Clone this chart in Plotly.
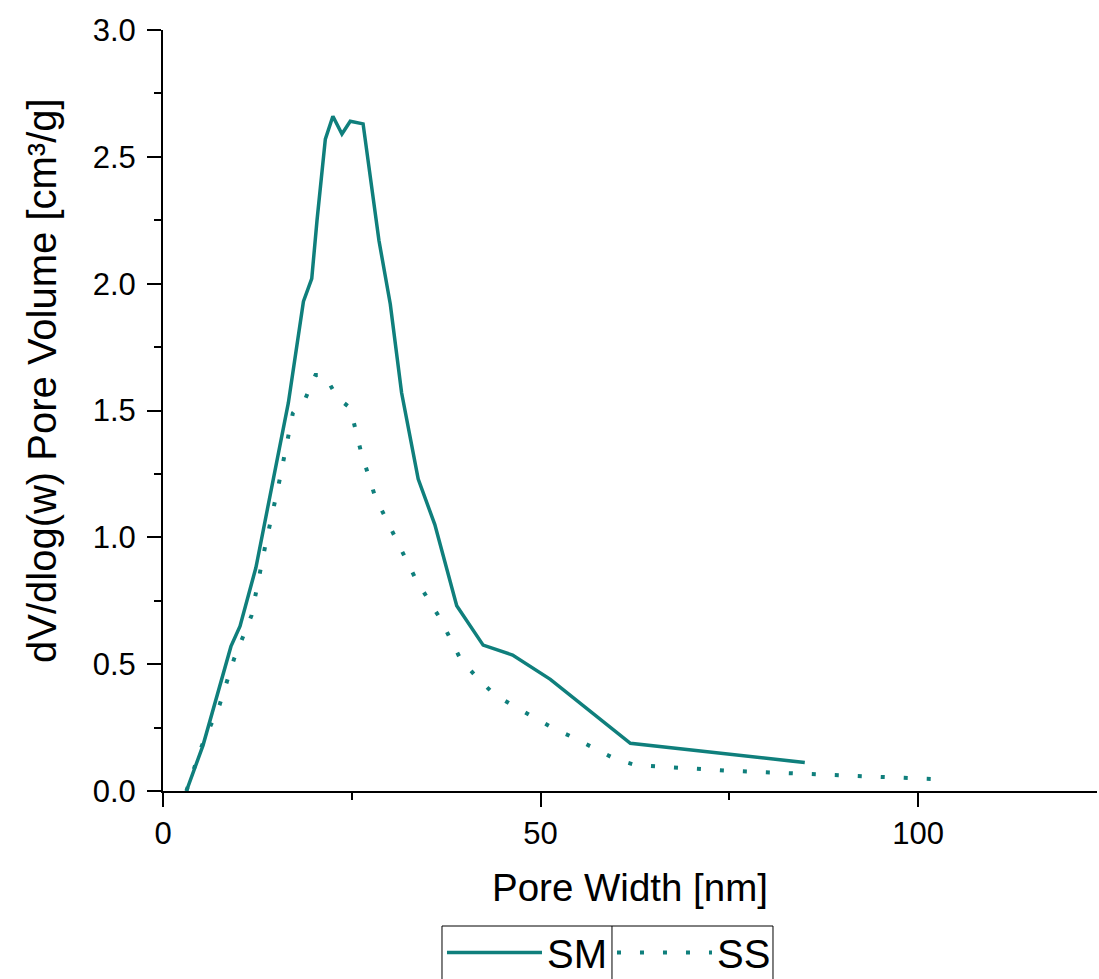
import plotly.graph_objects as go

# SM (solid) series
sm_x = [3.1, 5.3, 9.0, 10.2, 12.3, 16.6, 18.6, 19.7, 20.4, 21.5, 22.5, 23.7, 24.8, 26.5,
        28.6, 30.1, 31.6, 33.8, 36.0, 38.9, 42.4, 46.3, 51.3, 61.9, 85.0]
sm_y = [0.0, 0.18, 0.57, 0.65, 0.88, 1.53, 1.93, 2.02, 2.25, 2.57, 2.66, 2.59, 2.64, 2.63,
        2.17, 1.92, 1.57, 1.23, 1.05, 0.73, 0.575, 0.536, 0.44, 0.188, 0.112]

# SS (dotted) series
ss_x = [3.1, 5.1, 7.5, 9.4, 11.7, 13.5, 15.4, 17.2, 18.9, 20.2, 21.4, 23.1, 24.8, 26.2,
        28.1, 30.8, 33.5, 36.7, 39.4, 41.6, 43.9, 46.4, 49.0, 51.7, 54.4, 57.2, 59.9,
        62.6, 75.0, 88.0, 102.3]
ss_y = [0.0, 0.175, 0.34, 0.52, 0.69, 0.96, 1.22, 1.49, 1.55, 1.64, 1.64, 1.55, 1.51, 1.34,
        1.16, 1.00, 0.834, 0.68, 0.52, 0.447, 0.38, 0.336, 0.293, 0.247, 0.21, 0.168, 0.126,
        0.102, 0.08, 0.064, 0.047]

series_names = ["SM", "SS"]
x_title = "Pore Width [nm]"
y_title = "dV/dlog(w) Pore Volume [cm³/g]"
x_ticks = [0, 50, 100]
y_ticks = [0.0, 0.5, 1.0, 1.5, 2.0, 2.5, 3.0]

color = "#0f7f7c"
font_family = "Liberation Sans, Arial, sans-serif"

fig = go.Figure()
fig.add_trace(go.Scatter(x=sm_x, y=sm_y, mode="lines", name=series_names[0],
                         line=dict(color=color, width=3.5)))
fig.add_trace(go.Scatter(x=ss_x, y=ss_y, mode="lines", name=series_names[1],
                         line=dict(color=color, width=4, dash="4px,19px")))

axis_common = dict(showline=True, linecolor="black", linewidth=2, ticks="outside",
                   ticklen=14, tickwidth=2, tickcolor="black", showgrid=False,
                   zeroline=False, tickfont=dict(size=31, color="black", family=font_family))

fig.update_xaxes(range=[0, 123.7], tickvals=x_ticks, ticktext=[str(v) for v in x_ticks],
                 minor=dict(ticklen=7, tickwidth=2, tickcolor="black", tickvals=[25, 75], ticks="outside"),
                 title=dict(text=x_title, font=dict(size=38.5, color="black", family=font_family), standoff=24),
                 **axis_common)
fig.update_yaxes(range=[0, 3.0], tickvals=y_ticks, ticktext=[f"{v:.1f}" for v in y_ticks],
                 minor=dict(ticklen=7, tickwidth=2, tickcolor="black",
                            tickvals=[0.25, 0.75, 1.25, 1.75, 2.25, 2.75], ticks="outside"),
                 ticklabelstandoff=5,
                 **axis_common)

# legend frame (box with a divider between the two entries), in paper coordinates
frame_left, frame_mid, frame_right = 0.2987, 0.4807, 0.6531
frame_top, frame_bottom = -0.1774, -0.30

fig.update_layout(
    width=1099, height=979,
    margin=dict(l=163, r=2, t=30, b=188, autoexpand=False),
    plot_bgcolor="white", paper_bgcolor="white",
    font=dict(family=font_family, color="black"),
    legend=dict(orientation="h", x=frame_left, xanchor="left", y=-0.1695, yanchor="top",
                borderwidth=0, bgcolor="rgba(0,0,0,0)",
                font=dict(size=40, color="black", family=font_family),
                itemwidth=95, entrywidth=60, entrywidthmode="pixels",
                tracegroupgap=0),
    shapes=[
        dict(type="rect", xref="paper", yref="paper", x0=frame_left, x1=frame_right,
             y0=frame_bottom, y1=frame_top, line=dict(color="black", width=1)),
        dict(type="line", xref="paper", yref="paper", x0=frame_mid, x1=frame_mid,
             y0=frame_bottom, y1=frame_top, line=dict(color="black", width=1)),
    ],
    annotations=[
        dict(text=y_title, xref="paper", yref="paper", x=-0.1296, y=0.540,
             xanchor="center", yanchor="middle", textangle=-90, showarrow=False,
             font=dict(size=40, color="black", family=font_family)),
    ],
)

fig.write_html("out.html", config={"displayModeBar": False},
               post_script="document.body.style.margin='0';document.body.style.overflow='hidden';")
